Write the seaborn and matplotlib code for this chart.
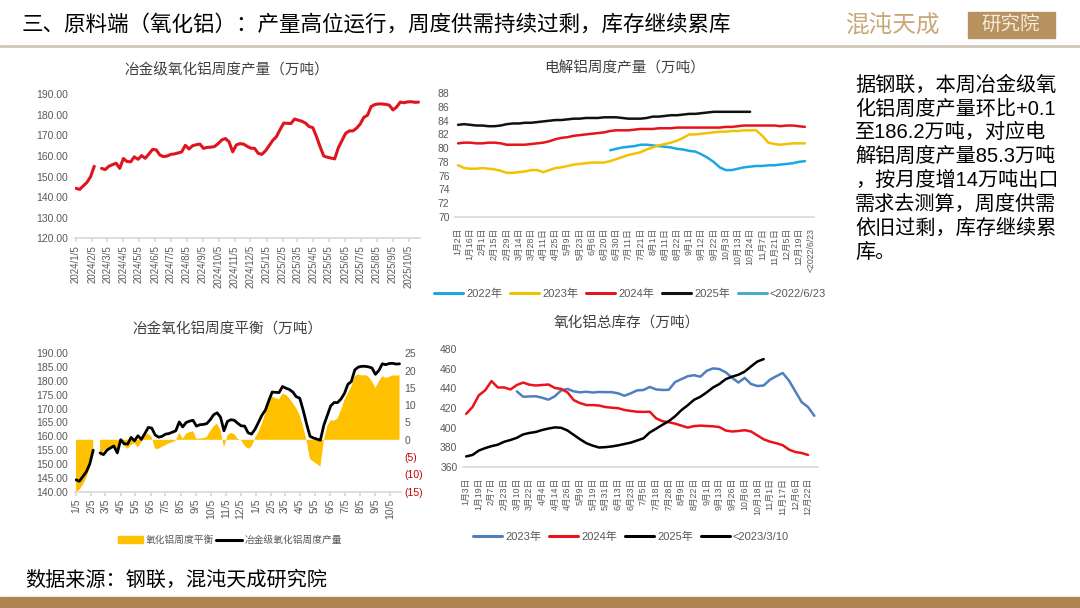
import numpy as np
import pandas as pd
import seaborn as sns
import matplotlib.pyplot as plt
from matplotlib.patches import Patch, Rectangle
from matplotlib.lines import Line2D

nan = np.nan

# 冶金级氧化铝周度产量, weekly from 2024/1/5 (gap around the spring festival)
alumina_prod = [144.3, 143.8, 145.5, 147.2, 150.0, 155.0, nan, 154.0, 153.4, 155.0,
                155.8, 156.5, 154.0, 158.8, 157.3, 157.2, 159.6, 158.4, 160.2, 158.9,
                161.0, 163.2, 163.0, 160.5, 159.7, 160.0, 160.8, 161.0, 161.5, 162.0,
                165.2, 163.4, 165.0, 165.5, 165.8, 163.7, 164.2, 164.3, 164.6, 166.0,
                167.8, 168.5, 166.9, 162.0, 165.4, 166.0, 165.8, 164.7, 163.8, 163.7,
                161.3, 160.8, 162.5, 165.0, 167.6, 169.4, 172.8, 176.0, 175.9, 175.8,
                178.0, 177.4, 176.9, 176.0, 174.3, 173.8, 169.5, 164.5, 160.0, 159.4,
                159.0, 158.6, 164.0, 167.5, 171.0, 172.2, 172.2, 173.5, 175.5, 178.8,
                179.8, 184.0, 185.0, 185.3, 185.3, 185.1, 184.7, 182.4, 183.8, 186.2,
                185.9, 186.3, 186.4, 186.1, 186.2]

# 氧化铝周度平衡, same weeks
alumina_balance = [-15, -14.5, -13, -11, -8, -4, nan, -5, -3.1, -2.6,
                   -2.2, -2.0, -3.0, -0.7, -1.7, -2.6, -1.5, -1.0, -2.2, -0.7,
                   1.3, 1.8, 0.8, -2.6, -2.6, -2.0, -1.5, -1.0, -0.7, -0.2,
                   2.0, 0.3, 1.8, 2.2, 2.5, 0.3, 0.4, 0.5, 0.8, 2.5,
                   3.9, 4.7, 2.7, -2.2, 1.3, 2.0, 1.6, 0.3, -0.2, -1.7,
                   -2.6, -2.0, 0.5, 2.2, 4.7, 7.6, 10.6, 12.5, 12.0, 11.7,
                   13.3, 13.0, 12.0, 10.6, 9.1, 7.1, 3.7, -0.2, -5.6, -6.3,
                   -7.0, -7.8, -0.2, 3.9, 5.7, 5.5, 6.2, 8.6, 11.5, 13.5,
                   15.4, 18.4, 18.9, 18.6, 18.7, 18.2, 16.9, 15.0, 16.9, 18.4,
                   17.9, 18.2, 18.6, 18.6, 18.6]

# 电解铝周度产量 (category axis, every second category labelled)
al_labels = ['1月2日', '1月16日', '2月1日', '2月15日', '2月29日', '3月14日', '3月28日',
             '4月11日', '4月25日', '5月9日', '5月23日', '6月6日', '6月20日', '6月30日',
             '7月11日', '7月21日', '8月1日', '8月11日', '8月22日', '9月1日', '9月12日',
             '9月22日', '10月3日', '10月13日', '10月24日', '11月7日', '11月21日',
             '12月5日', '12月19日', '<2022/6/23']
al_2022_start = 25
al_2022 = [79.7, 79.9, 80.1, 80.2, 80.3, 80.5, 80.5, 80.4, 80.3, 80.2,
           80.1, 79.9, 79.8, 79.6, 79.5, 79.1, 78.6, 78.0, 77.2, 76.8,
           76.8, 77.0, 77.2, 77.3, 77.4, 77.4, 77.5, 77.5, 77.6, 77.7,
           77.8, 78.0, 78.1]
al_2023 = [77.5, 77.1, 77.0, 77.0, 77.1, 77.0, 76.9, 76.7, 76.4, 76.4,
           76.5, 76.6, 76.8, 76.8, 76.5, 76.8, 77.1, 77.2, 77.4, 77.6,
           77.7, 77.8, 77.9, 77.9, 77.9, 78.1, 78.4, 78.7, 79.0, 79.2,
           79.4, 79.8, 80.1, 80.4, 80.6, 80.8, 81.1, 81.5, 82.0, 82.0,
           82.1, 82.2, 82.3, 82.4, 82.4, 82.5, 82.5, 82.6, 82.6, 82.6,
           81.8, 80.8, 80.6, 80.5, 80.6, 80.7, 80.7, 80.7]
al_2024 = [80.7, 80.8, 80.8, 80.7, 80.7, 80.8, 80.8, 80.7, 80.5, 80.5,
           80.5, 80.5, 80.6, 80.7, 80.8, 81.0, 81.3, 81.5, 81.6, 81.8,
           81.9, 82.0, 82.1, 82.2, 82.3, 82.5, 82.6, 82.6, 82.6, 82.7,
           82.8, 82.8, 82.8, 82.9, 82.9, 82.9, 83.0, 83.0, 83.0, 83.0,
           83.0, 83.0, 83.0, 83.0, 83.1, 83.1, 83.2, 83.3, 83.3, 83.3,
           83.3, 83.3, 83.3, 83.2, 83.3, 83.3, 83.2, 83.1]
al_2025 = [83.4, 83.5, 83.4, 83.3, 83.3, 83.2, 83.2, 83.3, 83.5, 83.6,
           83.6, 83.7, 83.7, 83.8, 83.9, 84.0, 84.1, 84.1, 84.2, 84.3,
           84.3, 84.4, 84.4, 84.4, 84.5, 84.5, 84.5, 84.4, 84.3, 84.3,
           84.3, 84.4, 84.6, 84.6, 84.7, 84.8, 84.8, 84.9, 85.0, 85.0,
           85.1, 85.2, 85.3, 85.3, 85.3, 85.3, 85.3, 85.3, 85.3]

# 氧化铝总库存 (category axis)
inv_labels = ['1月3日', '1月19日', '2月7日', '2月23日', '3月10日', '3月22日', '4月4日',
              '4月14日', '4月26日', '5月9日', '5月19日', '5月31日', '6月13日', '6月23日',
              '7月5日', '7月18日', '7月28日', '8月9日', '8月22日', '9月1日', '9月13日',
              '9月26日', '10月6日', '10月18日', '11月1日', '11月17日', '12月6日', '12月22日']
inv_2023_start = 8
inv_2023 = [437, 431.5, 431.8, 432, 430.5, 428.5, 432, 438, 439.5, 437,
            436, 436.6, 435.8, 436.4, 436.2, 436.2, 435, 432.5, 435, 438,
            438.4, 441.5, 439, 438.4, 438.6, 446.5, 449.5, 452.5, 453.5, 452,
            458, 460.5, 459.8, 456.5, 451, 446, 450.8, 444.5, 442.5, 443,
            449, 452.5, 455.8, 448, 437, 426, 421, 412]
inv_2024 = [414, 421, 433, 438, 447.5, 441, 441, 439, 443.5, 446,
            443.8, 443, 443.5, 444, 440.5, 439.5, 436, 428, 425, 423,
            423, 422.5, 421, 420.3, 419.8, 418, 417, 416.2, 416, 416.2,
            409.5, 406.5, 405.5, 404, 402, 400, 401.5, 402, 401.6, 401.3,
            400.5, 397, 396, 396.5, 397.3, 396, 392, 388, 385.6, 384,
            382, 377.5, 375, 374, 372]
inv_2025 = [370.5, 372, 376.5, 379, 381, 382.5, 385.5, 387.3, 389.5, 393,
            394.5, 395.5, 397.5, 399, 400.2, 399.8, 397, 392.5, 388, 384,
            381.5, 379.6, 380, 380.7, 381.8, 383.2, 384.6, 386.8, 389, 395,
            398.8, 402.8, 406.5, 411.5, 417.8, 422.8, 428.4, 431.5, 436, 441,
            444.5, 449.5, 452, 454, 457.2, 462.5, 467.5, 470]

right_text = ['据钢联，本周冶金级氧', '化铝周度产量环比+0.1', '至186.2万吨，对应电',
              '解铝周度产量85.3万吨', '，按月度增14万吨出口', '需求去测算，周度供需',
              '依旧过剩，库存继续累', '库。']

GRAY = '#595959'
AXIS = '#D9D9D9'

sns.set_theme(style='white')
plt.rcParams['font.family'] = ['Liberation Sans', 'Noto Sans CJK SC', 'DejaVu Sans']
plt.rcParams['axes.unicode_minus'] = False

fig = plt.figure(figsize=(10.8, 6.08), dpi=100)


def box(l, t, r, b):
    return fig.add_axes([l / 1080, 1 - b / 608, (r - l) / 1080, (b - t) / 608])


def tidy(ax, xsize=7, ypad=4):
    for s in ['top', 'right', 'left']:
        ax.spines[s].set_visible(False)
    ax.spines['bottom'].set_color(AXIS)
    ax.tick_params(axis='y', length=0, labelsize=7.5, labelcolor=GRAY, pad=ypad)
    ax.tick_params(axis='x', labelsize=xsize, labelcolor=GRAY, labelrotation=90, pad=2)
    ax.set_xlabel('')
    ax.set_ylabel('')


def ftext(x, y, s, **kw):
    fig.text(x / 1080, 1 - y / 608, s, **kw)


weeks = pd.date_range('2024-01-05', periods=len(alumina_prod), freq='7D')
month_ticks = pd.date_range('2024-01-01', '2025-10-01', freq='MS') + pd.Timedelta(days=4)
df_prod = pd.DataFrame({'date': weeks, 'prod': alumina_prod, 'bal': alumina_balance})
df_prod['seg'] = df_prod['prod'].isna().cumsum()
df_line = df_prod.dropna(subset=['prod'])
xlim = (weeks[0] - pd.Timedelta(days=2), weeks[-1] + pd.Timedelta(days=2))

# ---- top left: 冶金级氧化铝周度产量
ax1 = box(75, 94.3, 419.5, 238.3)
sns.lineplot(data=df_line, x='date', y='prod', units='seg', estimator=None,
             color='#E0141E', linewidth=2.2, ax=ax1)
ax1.set_ylim(120, 190)
ax1.set_yticks(np.arange(120, 191, 10))
ax1.set_yticklabels([f'{v:.2f}' for v in range(120, 191, 10)])
ax1.set_xlim(*xlim)
ax1.set_xticks(month_ticks)
ax1.set_xticklabels([f'{d.year}/{d.month}/{d.day}' for d in month_ticks])
tidy(ax1, xsize=7, ypad=5)
ax1.tick_params(axis='x', bottom=True, length=3, color=AXIS, direction='out')
ftext(227, 70, '冶金级氧化铝周度产量（万吨）', ha='center', va='center', fontsize=10.5, color='#404040')

# ---- top middle: 电解铝周度产量
ax2 = box(455, 93.3, 814, 216.7)
al_series = [('2022年', al_2022, al_2022_start, '#1AA7E3'),
             ('2023年', al_2023, 0, '#F2C200'),
             ('2024年', al_2024, 0, '#E3141C'),
             ('2025年', al_2025, 0, '#111111')]
for name, vals, start, col in al_series:
    sns.lineplot(x=np.arange(start, start + len(vals)), y=vals, color=col,
                 linewidth=1.8, ax=ax2)
ax2.set_ylim(70, 88)
ax2.set_yticks(np.arange(70, 89, 2))
ax2.set_xlim(-0.5, 58.5)
ax2.set_xticks(np.arange(0, 59, 2))
ax2.set_xticklabels(al_labels)
tidy(ax2, xsize=6.3, ypad=4)
h2 = [Line2D([], [], color=c, lw=2.2) for _, _, _, c in al_series] + [Line2D([], [], color='#4BACC6', lw=2.2)]
n2 = [n for n, _, _, _ in al_series] + ['<2022/6/23']
ax2.legend(h2, n2, loc='center', bbox_to_anchor=(630 / 1080, 1 - 294 / 608),
           bbox_transform=fig.transFigure, ncol=5, frameon=False, fontsize=8,
           handlelength=2.6, columnspacing=0.7, handletextpad=0.3, labelcolor=GRAY)
ftext(625, 69, '电解铝周度产量（万吨）', ha='center', va='center', fontsize=10.5, color='#404040')

# ---- bottom left: 冶金氧化铝周度平衡 (area on right axis, output line on left axis)
ax3 = box(75, 353.3, 400.5, 491.7)
ax3.fill_between(df_prod['date'], 0, df_prod['bal'], color='#FFC000', linewidth=0)
ax3.set_ylim(-15, 25)
ax3.set_yticks(np.arange(-15, 26, 5))
ax3.set_yticklabels(['(15)', '(10)', '(5)', '0', '5', '10', '15', '20', '25'])
ax3.set_xlim(*xlim)
ax3.set_xticks(month_ticks)
ax3.set_xticklabels([f'{d.month}/{d.day}' for d in month_ticks])
tidy(ax3, xsize=7.5, ypad=3)
ax3.tick_params(axis='x', bottom=True, length=3, color=AXIS, direction='out')

ax3b = ax3.twinx()
sns.lineplot(data=df_line, x='date', y='prod', units='seg', estimator=None,
             color='black', linewidth=2.0, ax=ax3b)
ax3b.set_ylim(140, 190)
ax3b.set_yticks(np.arange(140, 191, 5))
ax3b.set_yticklabels([f'{v:.2f}' for v in range(140, 191, 5)])
ax3b.yaxis.tick_left()
ax3b.set_xlim(*xlim)
for s in ax3b.spines.values():
    s.set_visible(False)
ax3b.tick_params(axis='y', length=0, labelsize=7.5, labelcolor=GRAY, pad=5)
ax3b.set_ylabel('')
ax3b.set_xlabel('')

# twinx moved the area's ticks to the left; put them back on the right
ax3.yaxis.tick_right()
ax3.tick_params(axis='y', length=0, labelsize=7.5, labelcolor=GRAY, pad=3)
for lab, v in zip(ax3.yaxis.get_ticklabels(which='major'), np.arange(-15, 26, 5)):
    pass
for tick, v in zip(ax3.yaxis.get_major_ticks(), np.arange(-15, 26, 5)):
    if v < 0:
        tick.label2.set_color('#C00000')

ax3b.legend([Patch(color='#FFC000'), Line2D([], [], color='black', lw=2.2)],
            ['氧化铝周度平衡', '冶金级氧化铝周度产量'], loc='center',
            bbox_to_anchor=(230 / 1080, 1 - 540 / 608), bbox_transform=fig.transFigure,
            ncol=2, frameon=False, fontsize=7, handlelength=2.6, columnspacing=0.2,
            handletextpad=0.3, labelcolor=GRAY)
ftext(227, 329, '冶金氧化铝周度平衡（万吨）', ha='center', va='center', fontsize=10.5, color='#404040')

# ---- bottom middle: 氧化铝总库存
ax4 = box(463, 349.3, 817.5, 466.7)
inv_series = [('2023年', inv_2023, inv_2023_start, '#4F7FBF'),
              ('2024年', inv_2024, 0, '#E8141A'),
              ('2025年', inv_2025, 0, '#000000')]
for name, vals, start, col in inv_series:
    sns.lineplot(x=np.arange(start, start + len(vals)), y=vals, color=col,
                 linewidth=1.8, ax=ax4)
ax4.set_ylim(360, 480)
ax4.set_yticks(np.arange(360, 481, 20))
ax4.set_xlim(-0.5, 55.5)
ax4.set_xticks(np.arange(0, 56, 2))
ax4.set_xticklabels(inv_labels)
tidy(ax4, xsize=6.3, ypad=4)
h4 = [Line2D([], [], color=c, lw=2.2) for _, _, _, c in inv_series] + [Line2D([], [], color='black', lw=2.2)]
n4 = [n for n, _, _, _ in inv_series] + ['<2023/3/10']
ax4.legend(h4, n4, loc='center', bbox_to_anchor=(631 / 1080, 1 - 537 / 608),
           bbox_transform=fig.transFigure, ncol=4, frameon=False, fontsize=8,
           handlelength=2.6, columnspacing=0.7, handletextpad=0.3, labelcolor=GRAY)
ftext(627, 323, '氧化铝总库存（万吨）', ha='center', va='center', fontsize=10.5, color='#404040')

# ---- header, logo, commentary, footer
ftext(22, 25, '三、原料端（氧化铝）：产量高位运行，周度供需持续过剩，库存继续累库',
      ha='left', va='center', fontsize=15.5, color='black')
fig.add_artist(Line2D([0, 1], [1 - 46 / 608] * 2, transform=fig.transFigure,
                      color='#CFC7B8', lw=2))
ftext(846, 25, '混沌天成', ha='left', va='center', fontsize=17, color='#C9A878')
fig.add_artist(Rectangle((968 / 1080, 1 - 38 / 608), 87 / 1080, 26 / 608,
                         transform=fig.transFigure, color='#B8925E'))
ftext(1011, 25, '研究院', ha='center', va='center', fontsize=14, color='#F5EBDD')

for j, line in enumerate(right_text):
    ftext(855, 85 + 23.9 * j, line, ha='left', va='center', fontsize=14.5, color='black')

ftext(25, 580, '数据来源：钢联，混沌天成研究院', ha='left', va='center', fontsize=14.5, color='black')
fig.add_artist(Rectangle((0, 0), 1, 11 / 608, transform=fig.transFigure, color='#AE8552'))

fig.savefig('out.png', dpi=100)
